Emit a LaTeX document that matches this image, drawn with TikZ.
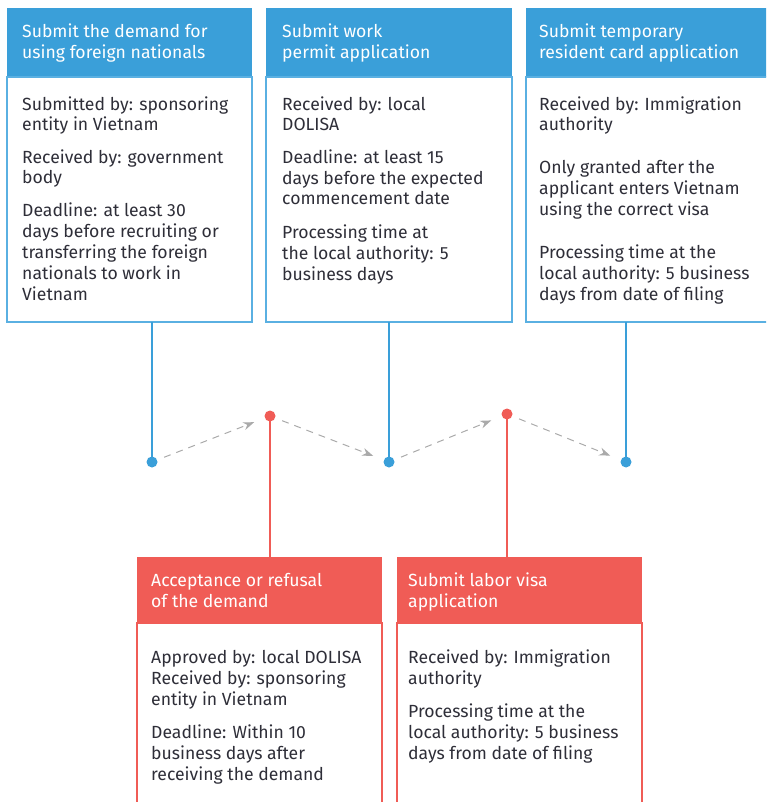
\documentclass[tikz,border=0pt]{standalone}
\usepackage{fontspec}
\setmainfont{Fira Sans}
\usetikzlibrary{arrows.meta}
\definecolor{eyblue}{HTML}{3A9FD9}
\definecolor{eyblueline}{HTML}{5AB0E2}
\definecolor{eyred}{HTML}{F05C56}
\definecolor{eytext}{HTML}{2E2E38}
\definecolor{eygray}{HTML}{AAAAAA}
\tikzset{
 hdr/.style={anchor=north west, inner sep=0pt, outer sep=0pt, draw=none},
 bodybox/.style={anchor=north west, inner sep=0pt, outer sep=0pt, fill=white, line width=1.2pt},
 htext/.style={anchor=base west, inner sep=0pt, align=left, text=white, font=\fontsize{17.6}{21}\selectfont},
 btext/.style={anchor=base west, inner sep=0pt, align=left, text=eytext, font=\fontsize{17.6}{20.8}\selectfont},
 bdot/.style={circle, fill=eyblue, inner sep=0pt, minimum size=11pt},
 rdot/.style={circle, fill=eyred, inner sep=0pt, minimum size=11pt},
 bstem/.style={draw=eyblue, line width=2.2pt},
 rstem/.style={draw=eyred, line width=2.2pt},
 flow/.style={draw=eygray, line width=1pt, dash pattern=on 7pt off 6pt, -{Stealth[length=11pt,width=8pt]}, shorten <=13pt, shorten >=17pt},
}
\begin{document}
\begin{tikzpicture}[x=1pt,y=-1pt]
\useasboundingbox (0,0) rectangle (766,802);
\clip (0,0) rectangle (766,802);
% top boxes
\node[hdr, fill=eyblue, minimum width=245pt, minimum height=69pt] (h1) at (7,8) {};
\node[bodybox, draw=eyblueline, minimum width=245pt, minimum height=245pt] (b1) at (7,77) {};
\node[hdr, fill=eyblue, minimum width=246pt, minimum height=69pt] (h2) at (266,8) {};
\node[bodybox, draw=eyblueline, minimum width=246pt, minimum height=245pt] (b2) at (266,77) {};
\node[hdr, fill=eyblue, minimum width=250pt, minimum height=69pt] (h3) at (526,8) {};
\node[bodybox, draw=eyblueline, minimum width=250pt, minimum height=245pt] (b3) at (526,77) {};
% bottom boxes
\node[hdr, fill=eyred, minimum width=245pt, minimum height=66pt] (h4) at (137,557) {};
\node[bodybox, draw=eyred, minimum width=245pt, minimum height=200pt] (b4) at (137,623) {};
\node[hdr, fill=eyred, minimum width=245pt, minimum height=66pt] (h5) at (397,557) {};
\node[bodybox, draw=eyred, minimum width=245pt, minimum height=200pt] (b5) at (397,623) {};
% texts box 1 (anchored at baseline of last line)
\node[htext] (t1h) at (22,59) {Submit the demand for\\using foreign nationals};
\node[btext] (t1a) at (22,131) {Submitted by: sponsoring\\entity in Vietnam};
\node[btext] (t1b) at (22,184) {Received by: government\\body};
\node[btext] (t1c) at (22,300) {Deadline: at least 30\\days before recruiting or\\transferring the foreign\\nationals to work in\\Vietnam};
% box 2
\node[htext] (t2h) at (282,59) {Submit work\\permit application};
\node[btext] (t2a) at (282,131) {Received by: local\\DOLISA};
\node[btext] (t2b) at (282,205) {Deadline: at least 15\\days before the expected\\commencement date};
\node[btext] (t2c) at (282,280) {Processing time at\\the local authority: 5\\business days};
% box 3
\node[htext] (t3h) at (539,59) {Submit temporary\\resident card application};
\node[btext] (t3a) at (539,131) {Received by: Immigration\\authority};
\node[btext] (t3b) at (539,215) {Only granted after the\\applicant enters Vietnam\\using the correct visa};
\node[btext] (t3c) at (539,300) {Processing time at the\\local authority: 5 business\\days from date of filing};
% box 4
\node[htext] (t4h) at (151,607) {Acceptance or refusal\\of the demand};
\node[btext] (t4a) at (151,705) {Approved by: local DOLISA\\Received by: sponsoring\\entity in Vietnam};
\node[btext] (t4b) at (151,780) {Deadline: Within 10\\business days after\\receiving the demand};
% box 5
\node[htext] (t5h) at (408,607) {Submit labor visa\\application};
\node[btext] (t5a) at (408,684) {Received by: Immigration\\authority};
\node[btext] (t5b) at (408,759) {Processing time at the\\local authority: 5 business\\days from date of filing};
% timeline
\coordinate (d1) at (152,462);
\coordinate (r1) at (270,416);
\coordinate (d2) at (389,462);
\coordinate (r2) at (507,414);
\coordinate (d3) at (626,462);
\draw[bstem] (d1 |- b1.south) -- (d1);
\draw[bstem] (d2 |- b2.south) -- (d2);
\draw[bstem] (d3 |- b3.south) -- (d3);
\draw[rstem] (r1) -- (r1 |- h4.north);
\draw[rstem] (r2) -- (r2 |- h5.north);
\draw[flow] (d1) -- (r1);
\draw[flow] (r1) -- (d2);
\draw[flow] (d2) -- (r2);
\draw[flow] (r2) -- (d3);
\node[bdot] (n1) at (d1) {};
\node[rdot] (n2) at (r1) {};
\node[bdot] (n3) at (d2) {};
\node[rdot] (n4) at (r2) {};
\node[bdot] (n5) at (d3) {};
\end{tikzpicture}
\end{document}
